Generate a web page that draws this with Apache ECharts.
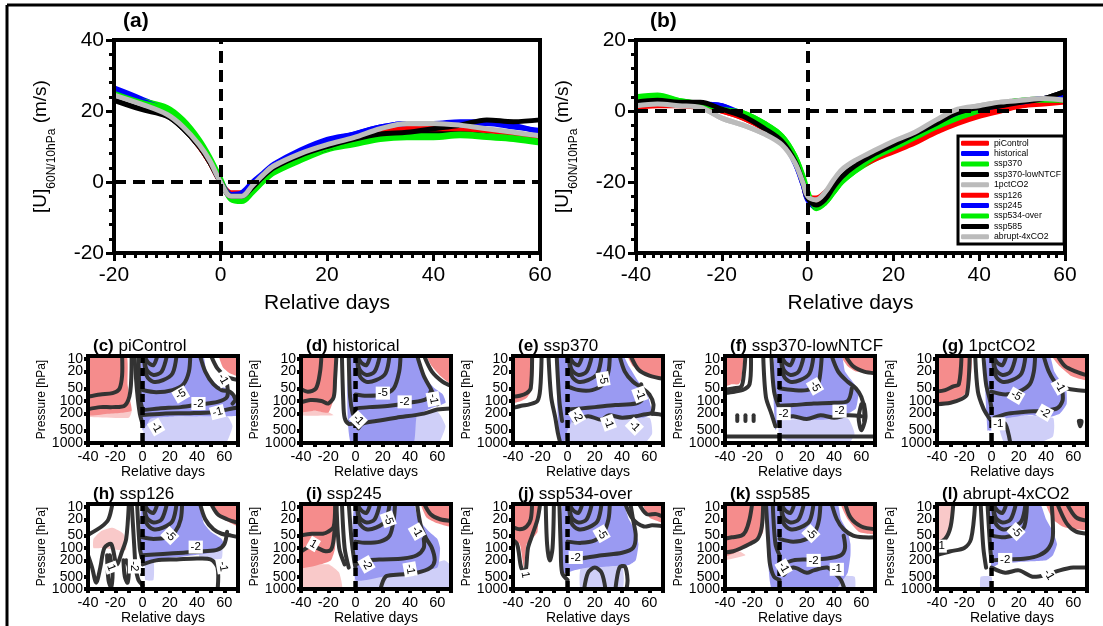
<!DOCTYPE html>
<html>
<head>
<meta charset="utf-8">
<script src="https://cdn.jsdelivr.net/npm/echarts@6.0.0/dist/echarts.min.js"></script>
<style>
  html, body { margin: 0; padding: 0; background: #fff; }
  #main { width: 1103px; height: 626px; }
</style>
</head>
<body>
<div id="main"></div>
<script>
// runs (same order in both line panels and in the legend)
var runNames = ['piControl', 'historical', 'ssp370', 'ssp370-lowNTCF', '1pctCO2',
                'ssp126', 'ssp245', 'ssp534-over', 'ssp585', 'abrupt-4xCO2'];
var runColors = ['#ff0000', '#0000ff', '#00ee00', '#000000', '#bbbbbb',
                 '#ff0000', '#0000ff', '#00ee00', '#000000', '#bbbbbb'];

// (a) [U] 60N/10hPa, days -20..60
var daysA = [-20, -15, -10, -7, -4, -2, 0, 2, 4, 6, 8, 10, 15, 20, 25, 30, 35, 40, 45, 50, 55, 60];
var uA = [
  [26, 23, 19.5, 15.5, 10, 5.5, 0, -3, -3, -0.5, 2, 3.5, 6.5, 9.5, 11.5, 13.5, 14.5, 15, 15, 14, 13, 12],
  [26.5, 23.5, 20, 16, 10.5, 6, 0.5, -3.5, -3, 0, 2.5, 5, 9, 12, 13.5, 15.5, 16.5, 16.5, 17, 17, 16, 14],
  [25, 23, 21, 17.5, 12, 7, 1, -5, -5.5, -3, 0, 2.5, 6, 9, 10.5, 12, 12.5, 12.5, 13, 12.5, 12, 11],
  [23.5, 21, 18.5, 15, 10, 5.5, 0, -4, -4, -1.5, 1.5, 4, 7, 9.5, 11.5, 13, 13.5, 14, 14.5, 14, 13, 12],
  [24.5, 22, 19, 15.5, 10.5, 6, 0, -4, -4, -1, 2, 4.5, 8, 10.5, 12.5, 14.5, 16, 16.5, 15.5, 14.5, 13.5, 12.5],
  [25.5, 22.5, 19.5, 15.5, 10, 5.5, 0, -3.5, -3.5, -1, 1.5, 4, 7, 10, 12, 14, 15, 15, 15, 14.5, 13.5, 12],
  [26, 23, 20, 16, 10.5, 6, 0, -3.5, -3.5, -0.5, 2, 4.5, 8.5, 11.5, 13.5, 15.5, 16.5, 16.5, 16.5, 16.5, 15.5, 14.5],
  [25, 22.5, 20.5, 17, 11.5, 6.5, 0.5, -4.5, -5, -2.5, 0.5, 3, 6.5, 9.5, 11, 12.5, 13, 13, 13.5, 13, 12.5, 11.5],
  [23, 20.5, 18.5, 15, 10, 5.5, 0, -4, -4, -1.5, 1.5, 4, 7.5, 10, 12, 13.5, 14, 15, 16, 17.5, 17, 17.5],
  [24.5, 22, 19, 15.5, 10.5, 6, 0, -4, -4, -1, 2, 4.5, 8, 10.5, 12.5, 15, 16.5, 16.5, 16, 15, 14, 13]
];

// (b) days -40..60
var daysB = [-40, -35, -30, -25, -20, -15, -10, -6, -3, -1, 0, 2, 4, 6, 8, 11, 15, 20, 25, 30, 35, 40, 45, 50, 55, 60];
var uB = [
  [1, 2, 2, 1.5, 0, -2, -5, -8, -14, -20, -24, -24.5, -23, -20.5, -18.5, -16, -13.5, -11, -8.5, -5.5, -3, -1, 0.5, 1.5, 2, 2.5],
  [2, 2.5, 2, 2, 1.5, -1.5, -4.5, -8.5, -14.5, -21, -25, -27, -25.5, -22, -19, -16, -13, -10.5, -7.5, -4.5, -1.5, 0.5, 1.5, 2.5, 3.5, 4],
  [4, 4.5, 3, 2, 0.5, -0.5, -3.5, -7, -12.5, -18.5, -22.5, -27.5, -26, -23, -20, -17, -14, -11, -8, -5, -2.5, 0, 2, 3, 3.5, 3.5],
  [2.5, 3, 2.5, 2, 1, -1.5, -4.5, -8, -14, -20.5, -24.5, -26, -24.5, -21, -18, -15, -12.5, -9.5, -6.5, -3.5, -1, 0.5, 1.5, 2.5, 3.5, 5.5],
  [1.5, 2, 1.5, 1, -2, -4, -6.5, -9, -14, -20, -24, -25.5, -23.5, -20, -17, -14.5, -12, -9, -6.5, -3, 0, 1.5, 2.5, 3, 3.5, 3],
  [1, 1.5, 1.5, 1, 0, -2, -5, -8.5, -14, -20.5, -24.5, -25, -24, -21, -19, -16.5, -14, -11.5, -9, -6, -3.5, -1.5, 0, 1.5, 2.5, 3],
  [2, 2.5, 2, 2, 1.5, -1, -4.5, -8, -14.5, -21, -25, -27, -25.5, -22, -19, -16, -13, -10, -7, -4, -1, 0.5, 2, 2.5, 3.5, 3.5],
  [3.5, 4, 3, 2, 0.5, -0.5, -3.5, -7, -12.5, -19, -23, -27, -26, -23, -20, -17, -13.5, -10.5, -7.5, -4.5, -2, 0.5, 2, 3, 3, 3],
  [2.5, 3, 2.5, 2.5, 0.5, -1.5, -5, -8.5, -14, -20.5, -24.5, -26.5, -25, -21.5, -18.5, -15.5, -12.5, -9.5, -6.5, -3.5, -0.5, 1, 1.5, 2.5, 3.5, 5.5],
  [1.5, 2, 1.5, 1, -2, -4, -6.5, -9.5, -14.5, -20.5, -24, -25, -23, -19.5, -16.5, -14, -11.5, -8.5, -6, -2.5, 0.5, 1.5, 2.5, 3, 3.5, 3]
];

// small panels (c)-(l): points are [relative day, pressure hPa]
var panelTags = ['(c)', '(d)', '(e)', '(f)', '(g)', '(h)', '(i)', '(j)', '(k)', '(l)'];
var pLevels = [10, 20, 50, 100, 200, 500, 1000];
var pLabelsA = [10, 50, 200, 1000];   // drawn by the main pressure axis
var pLabelsB = [20, 100, 500];        // drawn by a label-only twin axis so nothing gets hidden
var dayLabels = [-40, -20, 0, 20, 40, 60];
var dayTicks = [-40, -30, -20, -10, 0, 10, 20, 30, 40, 50, 60, 70];

var redFill = [
  [[[-41,8],[-12,8],[-11,40],[-9,100],[-8,170],[-15,190],[-25,200],[-41,210]], [[56,8],[59,16],[64,22],[71,26],[71,8]]],
  [[[-41,8],[-14,8],[-15,40],[-16,90],[-20,190],[-30,170],[-41,180]], [[52,8],[56,15],[62,25],[71,40],[71,8]]],
  [[[-41,8],[-25,8],[-25,20],[-27,60],[-30,85],[-34,100],[-41,110]], [[44,8],[48,15],[55,20],[62,25],[71,30],[71,8]]],
  [[[-41,8],[-27,8],[-28,30],[-30,40],[-35,40],[-41,45]], [[45,8],[50,15],[56,20],[62,20],[71,25],[71,8]]],
  [[[-41,8],[-15,8],[-16,40],[-20,70],[-25,90],[-32,110],[-41,120]], [[44,8],[50,15],[58,25],[65,30],[71,32],[71,8]]],
  [[[52,8],[58,18],[65,25],[71,30],[71,8]]],
  [[[-41,8],[-15,8],[-15,100],[-18,200],[-25,250],[-41,300]], [[48,8],[52,18],[60,25],[71,30],[71,8]]],
  [[[-41,8],[-22,8],[-22,40],[-26,60],[-30,80],[-32,300],[-35,80],[-41,60]], [[55,8],[60,18],[66,22],[71,25],[71,8]]],
  [[[-41,8],[-12,8],[-12,40],[-15,60],[-20,80],[-30,120],[-41,160]], [[45,8],[50,20],[58,40],[65,45],[71,45],[71,8]]],
  [[[40,8],[45,20],[52,30],[60,35],[71,35],[71,8]]]
];
var pinkFill = [
  [[[-41,200],[-20,180],[-8,170],[-10,250],[-41,240]]],
  [[[-41,170],[-20,185],[-16,220],[-41,220]]],
  [],
  [],
  [],
  [[[-36,60],[-30,38],[-22,32],[-14,45],[-12,110],[-20,110],[-30,100],[-36,100]]],
  [[[-41,300],[-20,250],[-12,400],[-10,1100],[-41,1100]]],
  [],
  [[[-41,160],[-30,120],[-25,150],[-41,200]]],
  [[[-41,8],[-30,8],[-30,30],[-35,60],[-41,70]]]
];
var blueFill = [
  [[[0,8],[44,8],[47,22],[55,42],[63,52],[67,90],[71,120],[71,220],[50,230],[25,235],[6,260],[3,380],[0,500]]],
  [[[-3,8],[45,8],[50,25],[58,50],[64,70],[66,110],[55,150],[45,220],[42,1100],[-3,1100]]],
  [[[-6,8],[40,8],[45,15],[52,35],[58,60],[60,100],[62,200],[55,250],[30,250],[15,230],[5,250],[0,500],[-3,1100],[-6,1100]]],
  [[[-3,8],[45,8],[48,20],[55,40],[58,60],[56,150],[50,200],[40,260],[30,280],[10,260],[0,300],[-3,500]]],
  [[[-3,8],[42,8],[46,20],[52,40],[55,60],[55,120],[50,200],[40,250],[30,220],[20,230],[10,260],[3,300],[0,500],[-3,500]]],
  [[[0,8],[40,8],[45,25],[50,40],[58,60],[60,90],[55,120],[45,140],[30,160],[15,180],[5,200],[0,250]]],
  [[[0,8],[42,8],[46,20],[54,40],[60,60],[62,100],[60,300],[40,400],[20,500],[0,600]]],
  [[[-3,8],[40,8],[45,20],[50,40],[52,80],[50,200],[45,260],[30,280],[15,300],[5,350],[0,400],[-3,400]]],
  [[[-8,8],[42,8],[45,20],[50,40],[52,80],[52,150],[50,400],[45,700],[40,1100],[-5,1100],[-8,300]]],
  [[[0,8],[35,8],[40,20],[45,40],[48,80],[45,150],[40,200],[20,220],[5,250],[0,300]]]
];
var lightBlueFill = [
  [[[2,260],[30,240],[62,230],[66,400],[60,1100],[2,1100]]],
  [[[42,200],[60,180],[66,400],[60,1100],[42,1100]]],
  [[[0,250],[60,250],[62,600],[55,1100],[0,1100]]],
  [[[0,300],[50,260],[55,600],[50,1100],[15,1100],[0,700]]],
  [[[5,250],[45,250],[45,700],[30,1100],[10,1100]]],
  [[[42,100],[58,90],[58,180],[42,180]], [[2,200],[8,200],[8,600],[2,600]]],
  [[[0,500],[40,400],[65,200],[71,300],[71,1100],[0,1100]]],
  [[[10,300],[40,280],[40,1100],[10,1100]]],
  [[[40,500],[55,500],[55,1100],[40,1100]]],
  [[[-8,500],[0,500],[0,1100],[-8,1100]]]
];

// contour lines
var leftLines = [
  [[[-41,80],[-31,70],[-22,65],[-17,52],[-15,25],[-15,8]], [[-41,160],[-31,140],[-22,140],[-13,128],[-9,60],[-8,8]]],
  [[[-41,50],[-35,60],[-29,50],[-26,20],[-25,8]], [[-41,110],[-33,95],[-25,100],[-20,115],[-16,80],[-15,30],[-14,8]]],
  [[[-41,80],[-35,75],[-30,65],[-27,50],[-26,8]], [[-41,150],[-34,130],[-28,120],[-22,100],[-20,50],[-19,8]]],
  [[[-41,55],[-34,50],[-28,45],[-26,20],[-25,8]], [[-41,65],[-33,60],[-27,55],[-22,40],[-21,8]], [[-41,700],[0,700],[71,700]],
   [[-31,220],[-31,300]], [[-25,220],[-25,300]], [[-19,220],[-19,300]]],
  [[[-41,60],[-34,55],[-28,45],[-24,40],[-22,8]], [[-41,120],[-30,110],[-22,90],[-18,70],[-16,8]]],
  [[[-41,50],[-30,30],[-25,20],[-22,8]], [[-41,120],[-37,300],[-34,700],[-31,300],[-28,100],[-23,80],[-19,250],[-15,120],[-12,60],[-10,8]],
   [[-26,150],[-25,600],[-23,900],[-22,400],[-24,150]], [[-14,200],[-13,500],[-11,700],[-10,300],[-12,200]]],
  [[[-41,50],[-32,45],[-24,45],[-20,40],[-16,30],[-15,8]], [[-41,130],[-33,90],[-28,100],[-22,120],[-18,110],[-16,60],[-14,8]]],
  [[[-41,30],[-35,35],[-30,30],[-27,20],[-26,8]], [[-41,60],[-37,80],[-34,300],[-31,400],[-29,100],[-26,50],[-22,20],[-20,8]]],
  [[[-41,60],[-35,55],[-28,50],[-25,40],[-22,20],[-20,8]], [[-41,130],[-34,120],[-28,100],[-22,80],[-16,60],[-13,30],[-12,8]]],
  [[[-41,80],[-34,60],[-30,30],[-28,8]], [[-41,150],[-30,120],[-20,100],[-15,60],[-12,8]]]
];
var zeroLines = [
  [[[-6,8],[-4,60],[-2,200],[0,350]], [[-3,8],[-2,80],[0,160]]],
  [[[-10,8],[-9,100],[-8,250],[-5,350],[0,330]], [[-5,8],[-4,80],[-2,200],[0,250]]],
  [[[-14,8],[-12,80],[-9,250],[-7,600],[-5,1100]], [[-8,8],[-6,100],[-4,300]]],
  [[[-12,8],[-10,80],[-6,200],[-3,400]], [[-6,8],[-4,60],[0,150]]],
  [[[-12,8],[-10,60],[-6,150],[-2,250],[0,300]], [[-6,8],[-4,40],[-1,100],[0,150]]],
  [[[-8,8],[-6,100],[-5,300],[-3,600],[0,800]], [[-4,8],[-2,100],[0,200]]],
  [[[-14,8],[-12,100],[-8,250]], [[-10,8],[-8,100],[-5,300]], [[-5,8],[-3,60],[-1,200],[0,300]]],
  [[[-16,8],[-15,80],[-13,200],[-11,100],[-10,8]], [[-6,8],[-5,100],[-4,400],[0,600]]],
  [[[-10,8],[-8,100],[-7,250],[-4,500],[0,600]], [[-5,8],[-3,80],[0,150]]],
  [[[-8,8],[-6,100],[-4,300]], [[-3,8],[-1,100],[0,200]]]
];
// nested closed contours of the strong easterly core, same look in every run
var coreArcs = [
  [[1,8],[3,25],[8,35],[15,32],[22,22],[25,8]],
  [[1,8],[3,18],[8,24],[14,20],[18,8]],
  [[1,8],[4,12],[8,14],[11,8]]
];
var minus5 = [
  [[0,55],[10,62],[22,55],[30,40],[34,20],[35,8]],
  [[0,70],[8,75],[20,70],[28,50],[32,20],[33,8]],
  [[0,45],[8,55],[18,55],[26,40],[30,20],[31,8]],
  [[0,50],[10,55],[20,55],[28,40],[30,20],[31,8]],
  [[0,60],[10,70],[20,60],[28,40],[31,20],[32,8]],
  [[0,55],[8,60],[18,55],[24,40],[28,20],[29,8]],
  [[0,70],[8,75],[18,70],[25,50],[28,20],[29,8]],
  [[0,70],[10,75],[20,65],[26,45],[30,20],[31,8]],
  [[0,60],[10,70],[20,60],[26,40],[29,20],[30,8]],
  [[0,50],[10,55],[18,45],[24,30],[26,8]]
];
var minus2 = [
  [[0,165],[12,150],[28,140],[42,120],[55,105],[62,80],[62,40]],
  [[0,150],[10,140],[25,130],[40,110],[52,90],[55,60]],
  [[0,160],[10,150],[20,140],[35,125],[50,115],[55,90],[54,40]],
  [[0,130],[10,125],[25,115],[40,110],[50,100],[53,50]],
  [[2,250],[12,200],[25,180],[38,170],[48,150],[52,100],[52,60]],
  [[0,150],[15,140],[30,130],[45,120],[55,110],[60,80],[62,40]],
  [[0,250],[10,200],[20,190],[35,180],[45,150],[50,100],[50,60]],
  [[0,200],[10,180],[25,150],[40,130],[48,100],[50,50],[48,20],[46,8]],
  [[2,250],[10,200],[20,190],[35,180],[45,150],[48,100],[47,50]],
  [[0,200],[12,190],[25,180],[35,150],[42,100],[45,50],[44,8]]
];
var minus1 = [
  [[0,215],[15,200],[35,195],[52,185],[60,165],[71,140]],
  [[2,450],[5,350],[15,300],[30,250],[50,200],[60,160],[71,150]],
  [[5,300],[15,230],[25,280],[30,220],[40,250],[50,230],[60,200],[71,220]],
  [[0,250],[10,230],[20,270],[30,220],[40,250],[50,220],[60,230]],
  [[2,300],[6,400],[10,350],[14,1100]],
  [[0,250],[10,200],[25,190],[40,180],[50,190],[55,300],[55,1100]],
  [[18,1100],[22,500],[30,450],[45,400],[55,300],[58,200],[56,100],[52,60],[48,30],[45,8]],
  [[12,1100],[15,400],[20,300],[25,400],[28,1100]],
  [[3,450],[10,300],[20,400],[25,350],[35,300],[40,400],[45,600],[48,1100]],
  [[0,300],[10,400],[20,350],[30,500],[40,450],[50,350],[60,300],[71,300]]
];
var topRight = [
  [[[42,8],[46,20],[52,40],[58,55],[64,60],[68,90],[66,115]], [[50,8],[55,17],[62,27],[71,32]]],
  [[[45,8],[50,25],[55,50],[58,80],[60,120]], [[50,8],[56,20],[64,35],[71,45]]],
  [[[38,8],[42,20],[48,35],[55,50],[60,70],[63,120],[62,200]], [[46,8],[52,18],[60,25],[71,30]]],
  [[[38,8],[43,20],[50,35],[56,50],[60,80],[62,150],[62,300]], [[48,8],[54,15],[62,20],[71,22]],
   [[60,120],[58,250],[60,500],[63,250],[62,120]]],
  [[[38,8],[42,20],[48,40],[55,50],[62,55],[71,58]], [[48,8],[54,15],[62,20],[71,25]], [[64,300],[65,400],[66,300],[64,300]]],
  [[[42,8],[46,20],[52,35],[58,45],[65,50],[71,55]], [[50,8],[55,15],[62,20],[71,25]]],
  [[[50,8],[55,15],[62,20],[71,22]]],
  [[[42,8],[48,20],[56,30],[62,28],[71,30]], [[52,8],[58,15],[65,15],[71,18]], [[35,1100],[38,300],[42,280],[44,600],[43,1100]]],
  [[[38,8],[42,20],[47,35],[54,50],[62,55],[71,55]], [[48,8],[52,18],[60,30],[71,35]]],
  [[[48,8],[55,25],[62,40],[71,45]], [[55,8],[62,18],[71,22]]]
];
// contour labels: text, day, hPa, rotation (deg, counter-clockwise)
var contourLabels = [
  [['-5',28,70,30], ['-2',41,115,0], ['-1',55,185,15], ['-1',59,30,-60], ['-1',10,420,-60]],
  [['-5',20,65,0], ['-2',36,105,0], ['-1',57,90,-80], ['-1',2,280,-45]],
  [['-5',26,30,-80], ['-2',7,230,-60], ['-1',30,330,-70], ['-1',49,400,-45], ['-1',53,70,-70]],
  [['-5',26,45,-60], ['-2',44,175,0], ['-2',3,200,0]],
  [['-5',18,75,-30], ['-2',39,190,-30], ['-1',50,45,-60], ['-1',5,350,0]],
  [['-5',20,50,-45], ['-2',39,95,0], ['-1',59,280,-80], ['1',-23,300,-70], ['-2',-6,280,-90]],
  [['1',-31,80,-30], ['-5',24,20,-70], ['-2',8,250,-60], ['-1',45,40,-60], ['-1',40,330,-80]],
  [['-5',25,45,-60], ['-2',6,170,0], ['1',-31,450,-80]],
  [['-5',23,45,-45], ['-2',25,200,0], ['-1',42,330,0], ['-1',3,300,-60]],
  [['-1',-38,90,0], ['-5',18,40,-45], ['-2',10,190,0], ['-1',42,450,-60]]
];

var FONT = 'Liberation Sans, Arial, Helvetica, sans-serif';
var RED = '#f58c8c', PINK = '#f9c9c9', BLUE = '#9a9af2', LBLUE = '#cfcff8', INK = '#333333';

$ready(function () {
  var chart = echarts.init(document.getElementById('main'), null, { renderer: 'canvas' });

  var grids = [], xAxes = [], yAxes = [], series = [], titles = [];

  /**
   * top line panels (a) and (b)
   */
  var uName = '{m|[U]}{s|60N/10hPa}{m| (m/s)}';
  var uRich = {
    m: { fontSize: 19, fontFamily: FONT, color: '#000', padding: [0, 0, 8, 0] },
    s: { fontSize: 12, fontFamily: FONT, color: '#000', verticalAlign: 'bottom' }
  };
  function topAxes(g, xmin, xmax, ymin, ymax) {
    xAxes.push({
      gridIndex: g, type: 'value', min: xmin, max: xmax, interval: 20,
      axisLine: { onZero: false, lineStyle: { color: '#000', width: 4 } },
      axisTick: { length: 8, lineStyle: { color: '#000', width: 3 } },
      minorTick: { show: true, splitNumber: 10, length: 5, lineStyle: { color: '#000', width: 3 } },
      splitLine: { show: false },
      axisLabel: { fontSize: 21, color: '#000', fontFamily: FONT, margin: 12 },
      name: 'Relative days', nameLocation: 'middle', nameGap: 40,
      nameTextStyle: { fontSize: 21, color: '#000', fontFamily: FONT }
    });
    yAxes.push({
      gridIndex: g, type: 'value', min: ymin, max: ymax, interval: 20,
      axisLine: { onZero: false, lineStyle: { color: '#000', width: 4 } },
      axisTick: { length: 8, lineStyle: { color: '#000', width: 3 } },
      minorTick: { show: true, splitNumber: 5, length: 5, lineStyle: { color: '#000', width: 3 } },
      splitLine: { show: false },
      axisLabel: { fontSize: 21, color: '#000', fontFamily: FONT, margin: 10 },
      name: uName, nameLocation: 'middle', nameGap: 56,
      nameTextStyle: { rich: uRich }
    });
  }
  function topLines(g, days, vals) {
    for (let k = 0; k < runNames.length; k++) {
      let s = {
        name: runNames[k], type: 'line', xAxisIndex: g, yAxisIndex: g,
        data: days.map(function (d, j) { return [d, vals[k][j]]; }),
        smooth: 0.35, showSymbol: false, symbol: 'none', color: runColors[k],
        lineStyle: { color: runColors[k], width: 5 }, z: 3
      };
      if (k === 0) {
        s.markLine = {
          silent: true, symbol: ['none', 'none'], label: { show: false }, animation: false,
          lineStyle: { color: '#000', width: 4, type: [12, 7] },
          data: [{ xAxis: 0 }, { yAxis: 0 }]
        };
      }
      series.push(s);
    }
  }

  grids.push({ left: 114, top: 40, width: 426, height: 213, show: true, borderColor: '#000', borderWidth: 4, z: 5 });
  grids.push({ left: 636, top: 40, width: 429, height: 213, show: true, borderColor: '#000', borderWidth: 4, z: 5 });
  topAxes(0, -20, 60, -20, 40);
  topAxes(1, -40, 60, -40, 20);
  topLines(0, daysA, uA);
  topLines(1, daysB, uB);
  titles.push({ text: '(a)', left: 118, top: 6, textStyle: { fontSize: 21, fontWeight: 'bold', fontFamily: FONT, color: '#000' } });
  titles.push({ text: '(b)', left: 645, top: 6, textStyle: { fontSize: 21, fontWeight: 'bold', fontFamily: FONT, color: '#000' } });

  /**
   * contour panels (c)-(l)
   */
  var colLeft = [88, 301, 513, 725, 937], rowTop = [356, 504];
  var toLog = function (p) { return Math.log10(p); };
  var pMin = Math.log10(8.5), pMax = 3;
  var pFormat = function (v) { return String(Math.round(Math.pow(10, v))); };

  function panelShapes(i) {
    var out = [];
    pinkFill[i].forEach(function (p) { out.push({ kind: 'fill', pts: p, color: PINK }); });
    redFill[i].forEach(function (p) { out.push({ kind: 'fill', pts: p, color: RED }); });
    lightBlueFill[i].forEach(function (p) { out.push({ kind: 'fill', pts: p, color: LBLUE }); });
    blueFill[i].forEach(function (p) { out.push({ kind: 'fill', pts: p, color: BLUE }); });
    var lines = [].concat(leftLines[i], zeroLines[i], coreArcs, [minus5[i], minus2[i], minus1[i]], topRight[i]);
    lines.forEach(function (p) { out.push({ kind: 'line', pts: p, color: INK, w: 4 }); });
    out.push({ kind: 'line', pts: [[0, 8], [0, 1100]], color: '#000', w: 4.5, dash: [8, 5] });
    contourLabels[i].forEach(function (l) {
      out.push({ kind: 'label', text: l[0], day: l[1], p: l[2], rot: l[3] });
    });
    return out;
  }

  function drawShape(shapes) {
    return function (params, api) {
      var s = shapes[params.dataIndex];
      if (s.kind === 'label') {
        var c = api.coord([s.day, Math.log10(s.p)]);
        return {
          type: 'text', x: c[0], y: c[1], rotation: s.rot * Math.PI / 180,
          style: { text: s.text, fontSize: 11.5, fontFamily: FONT, fill: '#000', backgroundColor: '#fff',
                   padding: [1, 2, 0, 2], align: 'center', verticalAlign: 'middle' }
        };
      }
      var pts = s.pts.map(function (q) { return api.coord([q[0], Math.log10(q[1])]); });
      if (s.kind === 'fill') {
        return { type: 'polygon', shape: { points: pts, smooth: 0.15 }, style: { fill: s.color } };
      }
      return {
        type: 'polyline', shape: { points: pts, smooth: s.dash ? 0 : 0.3 },
        style: { stroke: s.color, lineWidth: s.w, fill: null, lineDash: s.dash || null, lineCap: s.dash ? 'butt' : 'round' }
      };
    };
  }

  for (let i = 0; i < panelTags.length; i++) {
    let g = i + 2;
    let left = colLeft[i % 5], top = rowTop[Math.floor(i / 5)];
    grids.push({ left: left, top: top, width: 150, height: 87, show: true, borderColor: '#000', borderWidth: 4, z: 5 });
    xAxes.push({
      gridIndex: g, type: 'value', min: -40, max: 70, interval: 20, z: 6,
      axisLine: { onZero: false, lineStyle: { color: '#000', width: 4 } },
      axisTick: { customValues: dayTicks, length: 4, lineStyle: { color: '#000', width: 4 } },
      axisLabel: { customValues: dayLabels, fontSize: 14.5, color: '#000', fontFamily: FONT, margin: 6 },
      splitLine: { show: false },
      name: 'Relative days', nameLocation: 'middle', nameGap: 21,
      nameTextStyle: { fontSize: 14, color: '#000', fontFamily: FONT }
    });
    let yMain = yAxes.length;
    yAxes.push({
      gridIndex: g, type: 'value', position: 'left', inverse: true, min: pMin, max: pMax, z: 6,
      axisLine: { onZero: false, lineStyle: { color: '#000', width: 4 } },
      axisTick: { customValues: pLevels.map(toLog), length: 4, lineStyle: { color: '#000', width: 4 } },
      axisLabel: {
        customValues: pLabelsA.map(toLog), fontSize: 14, color: '#000', fontFamily: FONT, margin: 5,
        showMinLabel: true, showMaxLabel: true, formatter: pFormat
      },
      splitLine: { show: false },
      name: 'Pressure [hPa]', nameLocation: 'middle', nameGap: 40,
      nameTextStyle: { fontSize: 12, color: '#000', fontFamily: FONT }
    });
    yAxes.push({
      gridIndex: g, type: 'value', position: 'left', offset: 0, inverse: true, min: pMin, max: pMax, z: 6,
      axisLine: { show: false }, axisTick: { show: false }, splitLine: { show: false },
      axisLabel: {
        customValues: pLabelsB.map(toLog), fontSize: 14, color: '#000', fontFamily: FONT, margin: 5,
        showMinLabel: true, showMaxLabel: true, formatter: pFormat
      }
    });
    let shapes = panelShapes(i);
    series.push({
      type: 'custom', name: 'panel' + i, xAxisIndex: g, yAxisIndex: yMain, clip: true, silent: true,
      data: shapes.map(function (s, k) { return [k, 2]; }),
      renderItem: drawShape(shapes)
    });
    titles.push({
      text: '{b|' + panelTags[i] + '} ' + runNames[i], left: left, top: top - 23,
      textStyle: {
        fontSize: 17, fontWeight: 'normal', fontFamily: FONT, color: '#000',
        rich: { b: { fontSize: 17, fontWeight: 'bold', fontFamily: FONT, color: '#000' } }
      }
    });
  }

  chart.setOption({
    animation: false,
    backgroundColor: '#fff',
    title: titles,
    legend: {
      data: runNames, orient: 'vertical', left: 958, top: 136,
      itemWidth: 28, itemHeight: 5, itemGap: 0, icon: 'roundRect', selectedMode: false,
      backgroundColor: '#fff', borderColor: '#000', borderWidth: 3, padding: [2, 3, 2, 3],
      textStyle: { fontSize: 8.7, lineHeight: 10.4, color: '#000', fontFamily: FONT }
    },
    grid: grids,
    xAxis: xAxes,
    yAxis: yAxes,
    series: series,
    graphic: [
      { type: 'line', shape: { x1: 7, y1: 5, x2: 1103, y2: 5 }, style: { stroke: '#000', lineWidth: 3 }, silent: true },
      { type: 'line', shape: { x1: 7, y1: 5, x2: 7, y2: 626 }, style: { stroke: '#000', lineWidth: 3 }, silent: true }
    ]
  });
});

function $ready(fn) {
  if (document.readyState !== 'loading') fn();
  else document.addEventListener('DOMContentLoaded', fn);
}
</script>
</body>
</html>
